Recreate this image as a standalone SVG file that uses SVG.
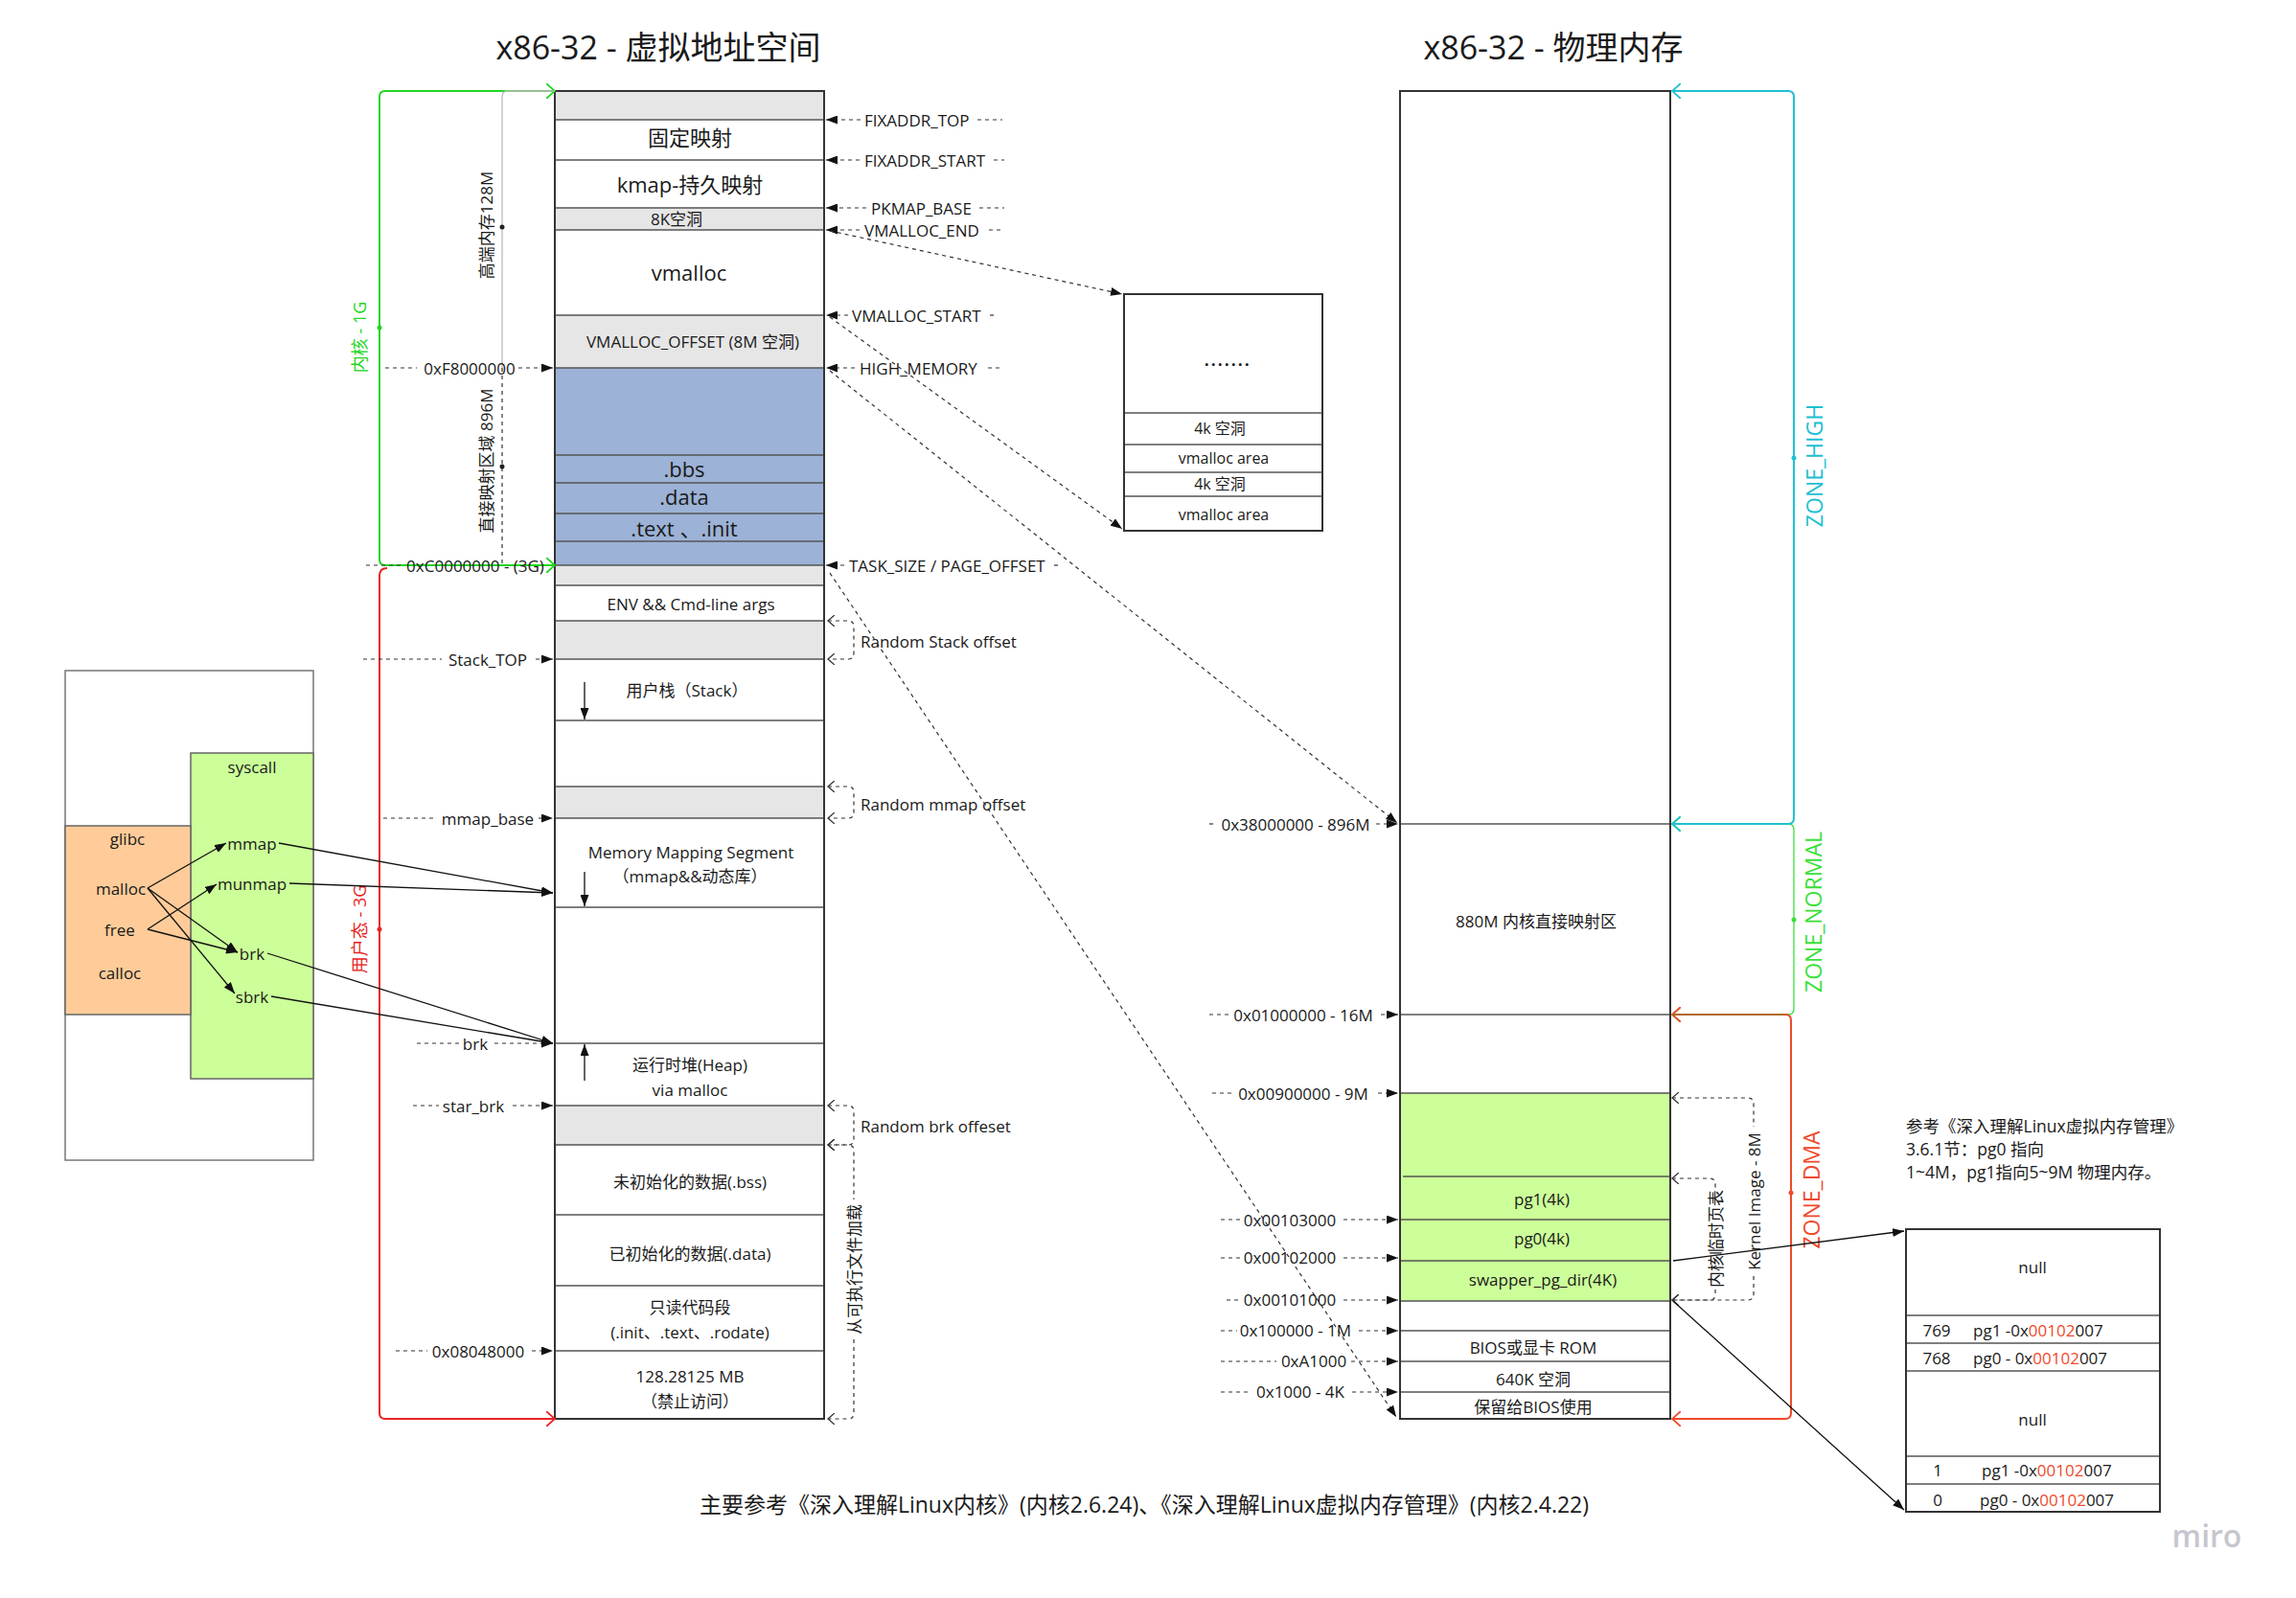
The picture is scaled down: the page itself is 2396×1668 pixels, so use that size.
<svg xmlns="http://www.w3.org/2000/svg" width="2396" height="1668" viewBox="0 0 2396 1668">
<style>
text{font-family:"Open Sans","Noto Sans CJK SC",sans-serif;fill:#1a1a1a;dominant-baseline:central}
.c{text-anchor:middle}
.f16{font-size:16px}.f17{font-size:17px}.f18{font-size:18px}.f20{font-size:20px}.f22{font-size:22px}.f23{font-size:23px}.f34{font-size:34px}
.box{fill:none;stroke:#333;stroke-width:2}
.row{stroke:#555;stroke-width:1.5}
.grey{fill:#e6e6e6}
.dl{stroke:#333;stroke-width:1.2;stroke-dasharray:4 4;fill:none}
.sl{stroke:#111;stroke-width:1.3;fill:none}
.red{fill:#ef4a2c}
</style>
<defs>
<marker id="af" viewBox="0 0 12 9" refX="12" refY="4.5" markerWidth="12" markerHeight="9" markerUnits="userSpaceOnUse" orient="auto"><path d="M0,0 L12,4.5 L0,9 z" fill="#111"/></marker>
<marker id="chG" viewBox="0 0 10 16" refX="9" refY="8" markerWidth="10" markerHeight="16" markerUnits="userSpaceOnUse" orient="auto-start-reverse"><path d="M0,0 L9,8 L0,16" fill="none" stroke="#22d622" stroke-width="1.8"/></marker>
<marker id="chR" viewBox="0 0 10 16" refX="9" refY="8" markerWidth="10" markerHeight="16" markerUnits="userSpaceOnUse" orient="auto-start-reverse"><path d="M0,0 L9,8 L0,16" fill="none" stroke="#e82424" stroke-width="1.8"/></marker>
<marker id="chC" viewBox="0 0 10 16" refX="9" refY="8" markerWidth="10" markerHeight="16" markerUnits="userSpaceOnUse" orient="auto-start-reverse"><path d="M0,0 L9,8 L0,16" fill="none" stroke="#1ec0d2" stroke-width="1.8"/></marker>
<marker id="chN" viewBox="0 0 10 16" refX="9" refY="8" markerWidth="10" markerHeight="16" markerUnits="userSpaceOnUse" orient="auto-start-reverse"><path d="M0,0 L9,8 L0,16" fill="none" stroke="#3ae03a" stroke-width="1.8"/></marker>
<marker id="chD" viewBox="0 0 10 16" refX="9" refY="8" markerWidth="10" markerHeight="16" markerUnits="userSpaceOnUse" orient="auto-start-reverse"><path d="M0,0 L9,8 L0,16" fill="none" stroke="#ef4a2c" stroke-width="1.8"/></marker>
<marker id="chK" viewBox="0 0 8 12" refX="7" refY="6" markerWidth="8" markerHeight="12" markerUnits="userSpaceOnUse" orient="auto-start-reverse"><path d="M0,0 L7,6 L0,12" fill="none" stroke="#333" stroke-width="1.3"/></marker>
</defs>
<rect width="2396" height="1668" fill="#fff"/>

<g id="titles">
<text class="c f34" x="687" y="49">x86-32 - 虚拟地址空间</text>
<text class="c f34" x="1621" y="49">x86-32 - 物理内存</text>
<text class="c f23" x="1194" y="1570">主要参考《深入理解Linux内核》(内核2.6.24)、《深入理解Linux虚拟内存管理》(内核2.4.22)</text>
<text x="2303" y="1602" class="c" style="font-size:32px;font-weight:600;fill:#c6c6ce">miro</text>
</g>

<g id="virtual-column">
<rect x="579" y="95" width="281" height="30" class="grey"/>
<rect x="579" y="217" width="281" height="23" class="grey"/>
<rect x="579" y="329" width="281" height="55" class="grey"/>
<rect x="579" y="384" width="281" height="206" fill="#9cb2d6"/>
<rect x="579" y="590" width="281" height="21" class="grey"/>
<rect x="579" y="648" width="281" height="40" class="grey"/>
<rect x="579" y="821" width="281" height="33" class="grey"/>
<rect x="579" y="1154" width="281" height="41" class="grey"/>
<g class="row">
<line x1="579" y1="125" x2="860" y2="125"/><line x1="579" y1="167" x2="860" y2="167"/>
<line x1="579" y1="217" x2="860" y2="217"/><line x1="579" y1="240" x2="860" y2="240"/>
<line x1="579" y1="329" x2="860" y2="329"/><line x1="579" y1="384" x2="860" y2="384"/>
<line x1="579" y1="475" x2="860" y2="475"/><line x1="579" y1="504" x2="860" y2="504"/>
<line x1="579" y1="536" x2="860" y2="536"/><line x1="579" y1="565" x2="860" y2="565"/>
<line x1="579" y1="590" x2="860" y2="590"/><line x1="579" y1="611" x2="860" y2="611"/>
<line x1="579" y1="648" x2="860" y2="648"/><line x1="579" y1="688" x2="860" y2="688"/>
<line x1="579" y1="752" x2="860" y2="752"/><line x1="579" y1="821" x2="860" y2="821"/>
<line x1="579" y1="854" x2="860" y2="854"/><line x1="579" y1="947" x2="860" y2="947"/>
<line x1="579" y1="1089" x2="860" y2="1089"/><line x1="579" y1="1154" x2="860" y2="1154"/>
<line x1="579" y1="1195" x2="860" y2="1195"/><line x1="579" y1="1268" x2="860" y2="1268"/>
<line x1="579" y1="1342" x2="860" y2="1342"/><line x1="579" y1="1410" x2="860" y2="1410"/>
</g>
<rect x="579" y="95" width="281" height="1386" class="box"/>
<text class="c f22" x="720" y="143">固定映射</text>
<text class="c f22" x="720" y="192">kmap-持久映射</text>
<text class="c f17" x="706" y="228">8K空洞</text>
<text class="c f22" x="719" y="284">vmalloc</text>
<text class="c f17" x="723" y="356">VMALLOC_OFFSET (8M 空洞)</text>
<text class="c f22" x="714" y="489">.bbs</text>
<text class="c f22" x="714" y="518">.data</text>
<text class="c f22" x="714" y="551">.text 、.init</text>
<text class="c f17" x="721" y="630">ENV &amp;&amp; Cmd-line args</text>
<text class="c f17" x="717" y="720">用户栈（Stack）</text>
<text class="c f17" x="721" y="889">Memory Mapping Segment</text>
<text class="c f17" x="720" y="914">（mmap&amp;&amp;动态库）</text>
<text class="c f17" x="720" y="1111">运行时堆(Heap)</text>
<text class="c f17" x="720" y="1137">via malloc</text>
<text class="c f17" x="720" y="1233">未初始化的数据(.bss)</text>
<text class="c f17" x="720" y="1308">已初始化的数据(.data)</text>
<text class="c f17" x="720" y="1364">只读代码段</text>
<text class="c f17" x="720" y="1390">(.init、.text、.rodate)</text>
<text class="c f17" x="720" y="1436">128.28125 MB</text>
<text class="c f17" x="720" y="1462">（禁止访问）</text>
<line x1="610" y1="712" x2="610" y2="751" class="sl" marker-end="url(#af)"/>
<line x1="610" y1="910" x2="610" y2="946" class="sl" marker-end="url(#af)"/>
<line x1="610" y1="1128" x2="610" y2="1090" class="sl" marker-end="url(#af)"/>
</g>

<g id="vmalloc-box">
<rect x="1173" y="307" width="207" height="247" fill="#fff"/>
<g class="row"><line x1="1173" y1="431" x2="1380" y2="431"/><line x1="1173" y1="464" x2="1380" y2="464"/><line x1="1173" y1="493" x2="1380" y2="493"/><line x1="1173" y1="518" x2="1380" y2="518"/></g>
<rect x="1173" y="307" width="207" height="247" class="box"/>
<text class="c" x="1281" y="374" style="font-size:20px;letter-spacing:1.5px;font-weight:600">.......</text>
<text class="c f16" x="1273" y="447">4k 空洞</text>
<text class="c f16" x="1277" y="478">vmalloc area</text>
<text class="c f16" x="1273" y="505">4k 空洞</text>
<text class="c f16" x="1277" y="537">vmalloc area</text>
</g>

<g id="glibc-box">
<rect x="68" y="700" width="259" height="511" fill="#fff" stroke="#777" stroke-width="1.5"/>
<rect x="199" y="786" width="128" height="340" fill="#ccff99" stroke="#666" stroke-width="1.5"/>
<rect x="68" y="862" width="131" height="197" fill="#ffcc99" stroke="#666" stroke-width="1.5"/>
<text class="c f17" x="133" y="875">glibc</text>
<text class="c f17" x="126" y="927">malloc</text>
<text class="c f17" x="125" y="970">free</text>
<text class="c f17" x="125" y="1015">calloc</text>
<text class="c f17" x="263" y="800">syscall</text>
<text class="c f17" x="263" y="880">mmap</text>
<text class="c f17" x="263" y="922">munmap</text>
<text class="c f17" x="263" y="995">brk</text>
<text class="c f17" x="263" y="1040">sbrk</text>
</g>

<g id="physical-column">
<rect x="1461" y="1141" width="282" height="217" fill="#ccff99"/>
<g class="row">
<line x1="1461" y1="860" x2="1743" y2="860"/><line x1="1461" y1="1059" x2="1743" y2="1059"/>
<line x1="1461" y1="1141" x2="1743" y2="1141"/><line x1="1464" y1="1228" x2="1743" y2="1228"/>
<line x1="1461" y1="1273" x2="1743" y2="1273"/><line x1="1461" y1="1316" x2="1743" y2="1316"/>
<line x1="1461" y1="1358" x2="1743" y2="1358"/><line x1="1461" y1="1389" x2="1743" y2="1389"/>
<line x1="1461" y1="1421" x2="1743" y2="1421"/><line x1="1461" y1="1453" x2="1743" y2="1453"/>
</g>
<rect x="1461" y="95" width="282" height="1386" class="box"/>
<text class="c f17" x="1603" y="961">880M 内核直接映射区</text>
<text class="c f17" x="1609" y="1251">pg1(4k)</text>
<text class="c f17" x="1609" y="1292">pg0(4k)</text>
<text class="c f17" x="1610" y="1335">swapper_pg_dir(4K)</text>
<text class="c f17" x="1600" y="1406">BIOS或显卡 ROM</text>
<text class="c f17" x="1600" y="1439">640K 空洞</text>
<text class="c f17" x="1600" y="1468">保留给BIOS使用</text>
</g>

<g id="pgdir-table">
<rect x="1989" y="1283" width="265" height="295" fill="#fff"/>
<g class="row"><line x1="1989" y1="1373" x2="2254" y2="1373"/><line x1="1989" y1="1402" x2="2254" y2="1402"/><line x1="1989" y1="1431" x2="2254" y2="1431"/><line x1="1989" y1="1520" x2="2254" y2="1520"/><line x1="1989" y1="1549" x2="2254" y2="1549"/></g>
<rect x="1989" y="1283" width="265" height="295" class="box"/>
<text class="c f17" x="2121" y="1322">null</text>
<text class="c f17" x="2021" y="1388">769</text>
<text class="f17" x="2059" y="1388">pg1 -0x<tspan class="red">00102</tspan>007</text>
<text class="c f17" x="2021" y="1417">768</text>
<text class="f17" x="2059" y="1417">pg0 - 0x<tspan class="red">00102</tspan>007</text>
<text class="c f17" x="2121" y="1481">null</text>
<text class="c f17" x="2022" y="1534">1</text>
<text class="f17" x="2068" y="1534">pg1 -0x<tspan class="red">00102</tspan>007</text>
<text class="c f17" x="2022" y="1565">0</text>
<text class="f17" x="2066" y="1565">pg0 - 0x<tspan class="red">00102</tspan>007</text>
</g>

<g id="note">
<text x="1989" y="1175" style="font-size:17.5px">参考《深入理解Linux虚拟内存管理》</text>
<text x="1989" y="1199" style="font-size:17.5px">3.6.1节：pg0 指向</text>
<text x="1989" y="1223" style="font-size:17.5px">1~4M，pg1指向5~9M 物理内存。</text>
</g>

<g id="brackets">
<path d="M579,95 H402 Q396,95 396,101 V584 Q396,590 402,590 H579" fill="none" stroke="#22d622" stroke-width="2" marker-start="url(#chG)" marker-end="url(#chG)"/>
<path d="M404,593 Q396,593 396,601 V1475 Q396,1481 402,1481 H579" fill="none" stroke="#e82424" stroke-width="2" marker-end="url(#chR)"/>
<circle cx="396" cy="342" r="2.5" fill="#22d622"/>
<circle cx="396" cy="970" r="2.5" fill="#e82424"/>
<text class="c f18" transform="translate(375,352) rotate(-90)" style="fill:#22d622">内核 - 1G</text>
<text class="c f18" transform="translate(375,970) rotate(-90)" style="fill:#e82424">用户态 - 3G</text>
<path d="M579,95 H530 Q524,95 524,101 V384" fill="none" stroke="#bbb" stroke-width="1.3"/>
<line x1="524" y1="384" x2="524" y2="590" class="dl"/>
<circle cx="524" cy="237" r="2.5" fill="#222"/>
<circle cx="524" cy="487" r="2.5" fill="#222"/>
<text class="c f17" transform="translate(507,235) rotate(-90)">高端内存128M</text>
<text class="c f17" transform="translate(507,481) rotate(-90)">直接映射区域 896M</text>

<path d="M864,648 H885 Q891,648 891,654 V682 Q891,688 885,688 H864" class="dl" marker-start="url(#chK)" marker-end="url(#chK)"/>
<path d="M864,821 H885 Q891,821 891,827 V848 Q891,854 885,854 H864" class="dl" marker-start="url(#chK)" marker-end="url(#chK)"/>
<path d="M864,1154 H885 Q891,1154 891,1160 V1189 Q891,1195 885,1195 H864" class="dl" marker-start="url(#chK)" marker-end="url(#chK)"/>
<path d="M864,1195 H885 Q891,1195 891,1201 V1252" class="dl" marker-start="url(#chK)"/>
<path d="M891,1398 V1475 Q891,1481 885,1481 H864" class="dl" marker-end="url(#chK)"/>
<text class="f17" x="898" y="669">Random Stack offset</text>
<text class="f17" x="898" y="839">Random mmap offset</text>
<text class="f17" x="898" y="1175">Random brk offeset</text>
<text class="c f17" transform="translate(891,1325) rotate(-90)">从可执行文件加载</text>

<path d="M1745,860 H1866 Q1872,860 1872,866 V1053 Q1872,1059 1866,1059 H1745" fill="none" stroke="#3ae03a" stroke-width="1.3" marker-start="url(#chN)" marker-end="url(#chN)"/>
<path d="M1745,95 H1866 Q1872,95 1872,101 V854 Q1872,860 1866,860 H1745" fill="none" stroke="#1ec0d2" stroke-width="2" marker-start="url(#chC)" marker-end="url(#chC)"/>
<path d="M1745,1059 H1863 Q1869,1059 1869,1065 V1475 Q1869,1481 1863,1481 H1745" fill="none" stroke="#ef4a2c" stroke-width="2" marker-start="url(#chD)" marker-end="url(#chD)"/>
<line x1="1745" y1="1059" x2="1862" y2="1059" stroke="#b06a22" stroke-width="2"/>
<circle cx="1872" cy="478" r="2.5" fill="#1ec0d2"/>
<circle cx="1872" cy="960" r="2.5" fill="#3ae03a"/>
<circle cx="1869" cy="1245" r="2.5" fill="#ef4a2c"/>
<text class="c f23" transform="translate(1893,486) rotate(-90)" style="fill:#1ec0d2">ZONE_HIGH</text>
<text class="c f23" transform="translate(1892,952) rotate(-90)" style="fill:#3ae03a">ZONE_NORMAL</text>
<text class="c f23" transform="translate(1890,1242) rotate(-90)" style="fill:#ef4a2c">ZONE_DMA</text>

<path d="M1745,1146 H1824 Q1830,1146 1830,1152 V1176" class="dl" marker-start="url(#chK)"/>
<path d="M1830,1332 V1351 Q1830,1357 1824,1357 H1745" class="dl" marker-end="url(#chK)"/>
<path d="M1745,1230 H1784 Q1790,1230 1790,1236 V1240" class="dl" marker-start="url(#chK)"/>
<path d="M1790,1346 V1351 Q1790,1357 1784,1357 H1745" class="dl" marker-end="url(#chK)"/>
<text class="c f17" transform="translate(1830,1254) rotate(-90)">Kernel Image - 8M</text>
<text class="c f17" transform="translate(1790,1293) rotate(-90)">内核临时页表</text>
</g>

<g id="address-labels">
<line x1="402" y1="384" x2="435" y2="384" class="dl"/><text class="c f17" x="490" y="384">0xF8000000</text><line x1="541" y1="384" x2="577" y2="384" class="dl" marker-end="url(#af)"/>
<line x1="382" y1="590" x2="420" y2="590" class="dl"/><text class="c f17" x="496" y="590">0xC0000000 - (3G)</text>
<line x1="379" y1="688" x2="461" y2="688" class="dl"/><text class="c f17" x="509" y="688">Stack_TOP</text><line x1="559" y1="688" x2="577" y2="688" class="dl" marker-end="url(#af)"/>
<line x1="400" y1="854" x2="455" y2="854" class="dl"/><text class="c f17" x="509" y="854">mmap_base</text><line x1="562" y1="854" x2="577" y2="854" class="dl" marker-end="url(#af)"/>
<line x1="435" y1="1089" x2="480" y2="1089" class="dl"/><text class="c f17" x="496" y="1089">brk</text><line x1="516" y1="1089" x2="577" y2="1089" class="dl" marker-end="url(#af)"/>
<line x1="431" y1="1154" x2="458" y2="1154" class="dl"/><text class="c f17" x="494" y="1154">star_brk</text><line x1="535" y1="1154" x2="577" y2="1154" class="dl" marker-end="url(#af)"/>
<line x1="413" y1="1410" x2="446" y2="1410" class="dl"/><text class="c f17" x="499" y="1410">0x08048000</text><line x1="555" y1="1410" x2="577" y2="1410" class="dl" marker-end="url(#af)"/>

<line x1="898" y1="125" x2="862" y2="125" class="dl" marker-end="url(#af)"/><text class="f17" x="902" y="125">FIXADDR_TOP</text><line x1="1020" y1="125" x2="1046" y2="125" class="dl"/>
<line x1="897" y1="167" x2="862" y2="167" class="dl" marker-end="url(#af)"/><text class="f17" x="902" y="167">FIXADDR_START</text><line x1="1037" y1="167" x2="1048" y2="167" class="dl"/>
<line x1="904" y1="217" x2="862" y2="217" class="dl" marker-end="url(#af)"/><text class="f17" x="909" y="217">PKMAP_BASE</text><line x1="1022" y1="217" x2="1048" y2="217" class="dl"/>
<line x1="897" y1="240" x2="862" y2="240" class="dl" marker-end="url(#af)"/><text class="f17" x="902" y="240">VMALLOC_END</text><line x1="1032" y1="240" x2="1048" y2="240" class="dl"/>
<line x1="885" y1="329" x2="862" y2="329" class="dl" marker-end="url(#af)"/><text class="f17" x="889" y="329">VMALLOC_START</text><line x1="1033" y1="329" x2="1040" y2="329" class="dl"/>
<line x1="892" y1="384" x2="862" y2="384" class="dl" marker-end="url(#af)"/><text class="f17" x="897" y="384">HIGH_MEMORY</text><line x1="1031" y1="384" x2="1045" y2="384" class="dl"/>
<line x1="881" y1="590" x2="862" y2="590" class="dl" marker-end="url(#af)"/><text class="f17" x="886" y="590">TASK_SIZE / PAGE_OFFSET</text><line x1="1100" y1="590" x2="1106" y2="590" class="dl"/>

<line x1="1262" y1="860" x2="1268" y2="860" class="dl"/><text class="c f17" x="1352" y="860">0x38000000 - 896M</text><line x1="1436" y1="860" x2="1459" y2="860" class="dl" marker-end="url(#af)"/>
<line x1="1262" y1="1059" x2="1284" y2="1059" class="dl"/><text class="c f17" x="1360" y="1059">0x01000000 - 16M</text><line x1="1441" y1="1059" x2="1459" y2="1059" class="dl" marker-end="url(#af)"/>
<line x1="1265" y1="1141" x2="1287" y2="1141" class="dl"/><text class="c f17" x="1360" y="1141">0x00900000 - 9M</text><line x1="1438" y1="1141" x2="1459" y2="1141" class="dl" marker-end="url(#af)"/>
<line x1="1274" y1="1273" x2="1294" y2="1273" class="dl"/><text class="c f17" x="1346" y="1273">0x00103000</text><line x1="1402" y1="1273" x2="1459" y2="1273" class="dl" marker-end="url(#af)"/>
<line x1="1274" y1="1313" x2="1294" y2="1313" class="dl"/><text class="c f17" x="1346" y="1312">0x00102000</text><line x1="1402" y1="1313" x2="1459" y2="1313" class="dl" marker-end="url(#af)"/>
<line x1="1280" y1="1357" x2="1294" y2="1357" class="dl"/><text class="c f17" x="1346" y="1356">0x00101000</text><line x1="1402" y1="1357" x2="1459" y2="1357" class="dl" marker-end="url(#af)"/>
<line x1="1274" y1="1389" x2="1291" y2="1389" class="dl"/><text class="c f17" x="1352" y="1388">0x100000 - 1M</text><line x1="1418" y1="1389" x2="1459" y2="1389" class="dl" marker-end="url(#af)"/>
<line x1="1274" y1="1421" x2="1332" y2="1421" class="dl"/><text class="c f17" x="1371" y="1420">0xA1000</text><line x1="1410" y1="1421" x2="1459" y2="1421" class="dl" marker-end="url(#af)"/>
<line x1="1274" y1="1453" x2="1305" y2="1453" class="dl"/><text class="c f17" x="1357" y="1452">0x1000 - 4K</text><line x1="1411" y1="1453" x2="1459" y2="1453" class="dl" marker-end="url(#af)"/>
</g>

<g id="connectors">
<line x1="866" y1="241" x2="1171" y2="307" class="dl" marker-end="url(#af)"/>
<line x1="866" y1="331" x2="1171" y2="552" class="dl" marker-end="url(#af)"/>
<line x1="866" y1="387" x2="1458" y2="859" class="dl" marker-end="url(#af)"/>
<line x1="866" y1="598" x2="1457" y2="1479" class="dl" marker-end="url(#af)"/>

<line x1="154" y1="927" x2="236" y2="880" class="sl" marker-end="url(#af)"/>
<line x1="154" y1="927" x2="248" y2="994" class="sl" marker-end="url(#af)"/>
<line x1="154" y1="927" x2="245" y2="1037" class="sl" marker-end="url(#af)"/>
<line x1="154" y1="970" x2="226" y2="923" class="sl" marker-end="url(#af)"/>
<line x1="154" y1="970" x2="248" y2="994" class="sl" marker-end="url(#af)"/>
<line x1="291" y1="880" x2="577" y2="932" class="sl" marker-end="url(#af)"/>
<line x1="302" y1="922" x2="577" y2="932" class="sl" marker-end="url(#af)"/>
<line x1="279" y1="995" x2="577" y2="1089" class="sl" marker-end="url(#af)"/>
<line x1="283" y1="1040" x2="577" y2="1089" class="sl" marker-end="url(#af)"/>

<line x1="1746" y1="1316" x2="1987" y2="1285" class="sl" marker-end="url(#af)"/>
<line x1="1746" y1="1358" x2="1987" y2="1576" class="sl" marker-end="url(#af)"/>
</g>
</svg>
